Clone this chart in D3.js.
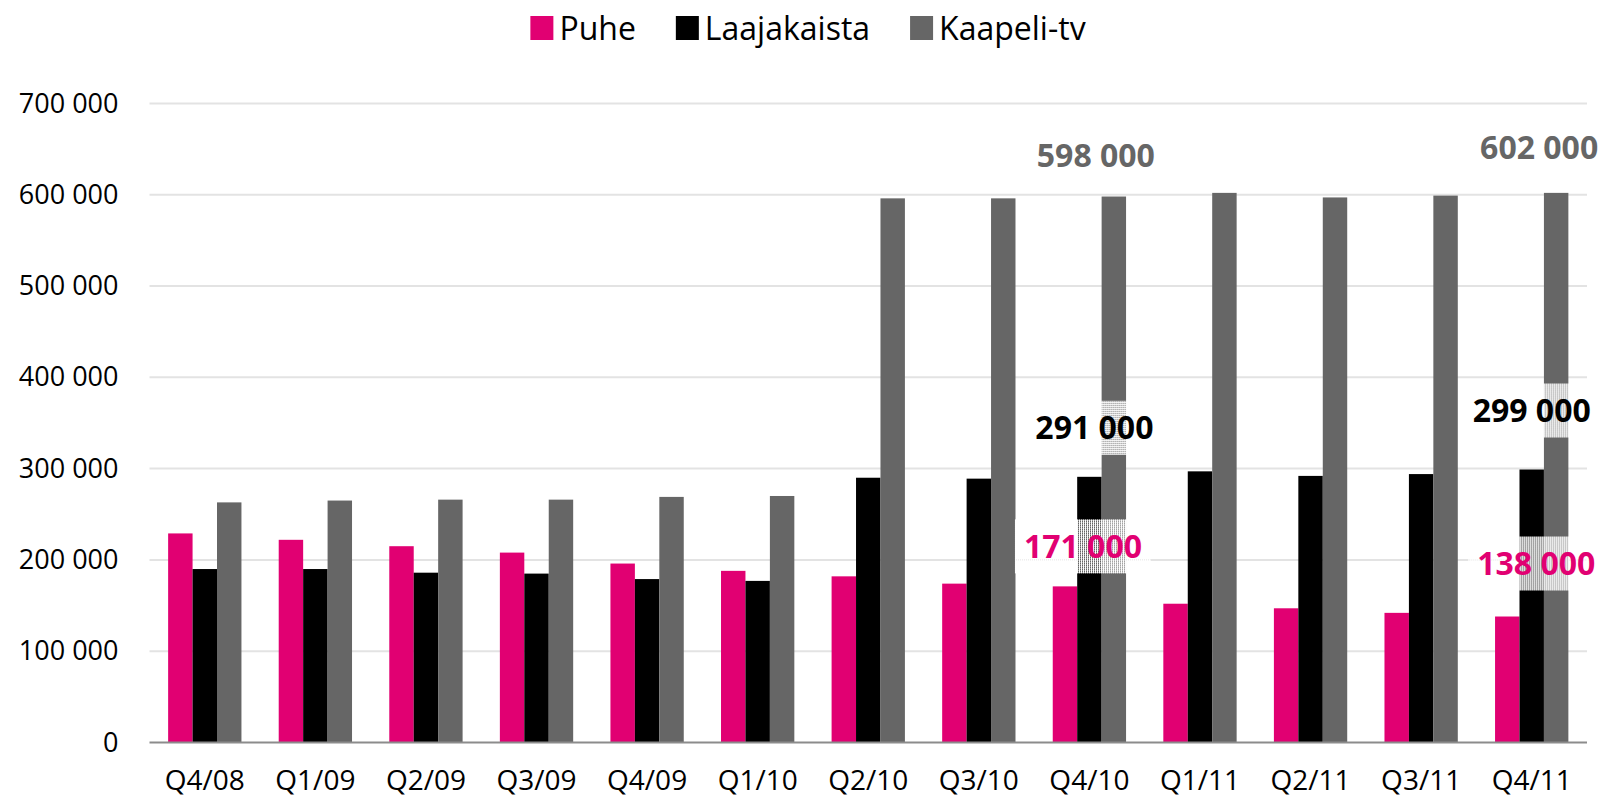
<!DOCTYPE html>
<meta charset="utf-8">
<head>
    <script src="https://d3js.org/d3.v7.min.js"></script>
    <style>
        body { margin: 0; background: #fff; }
        text { font-family: "Open Sans", sans-serif; }
    </style>
</head>
<body>
    <svg width="1606" height="799"></svg>
    <script>
        var categories = ["Q4/08", "Q1/09", "Q2/09", "Q3/09", "Q4/09", "Q1/10", "Q2/10",
            "Q3/10", "Q4/10", "Q1/11", "Q2/11", "Q3/11", "Q4/11"];
        var seriesNames = ["Puhe", "Laajakaista", "Kaapeli-tv"];
        var puhe = [229000, 222000, 215000, 208000, 196000, 188000, 182000,
            174000, 171000, 152000, 147000, 142000, 138000];
        var laajakaista = [190000, 190000, 186000, 185000, 179000, 177000, 290000,
            289000, 291000, 297000, 292000, 294000, 299000];
        var kaapeli = [263000, 265000, 266000, 266000, 269000, 270000, 596000,
            596000, 598000, 602000, 597000, 599000, 602000];
        var yTicks = [0, 100000, 200000, 300000, 400000, 500000, 600000, 700000];

        // callouts: category, series index, dx/dy in px from bar top
        var callouts = [
            { cat: "Q4/10", s: 2, dx: -18, dy: -41 },
            { cat: "Q4/10", s: 1, dx: 5, dy: -49 },
            { cat: "Q4/10", s: 0, dx: 18, dy: -40 },
            { cat: "Q4/11", s: 2, dx: -17, dy: -45 },
            { cat: "Q4/11", s: 1, dx: 0, dy: -59 },
            { cat: "Q4/11", s: 0, dx: 29, dy: -53 }
        ];

        var colors = ["#E10072", "#000000", "#666666"];
        var seriesValues = [puhe, laajakaista, kaapeli];

        var svg = d3.select("svg"),
            plotLeft = 149.5, plotRight = 1587, plotTop = 103.4, plotBottom = 742.5;

        var fmt = d3.formatLocale({ decimal: ",", thousands: " ", grouping: [3], currency: ["", ""] }).format(",");

        var x0 = d3.scaleBand().domain(categories).range([plotLeft, plotRight])
            .paddingInner(0.337).paddingOuter(0.1685);
        var x1 = d3.scaleBand().domain(d3.range(3)).range([0, x0.bandwidth()]);
        var y = d3.scaleLinear().domain([0, 700000]).range([plotBottom, plotTop]);

        // hatch pattern for label boxes
        var pat = svg.append("defs").append("pattern")
            .attr("id", "hatch").attr("patternUnits", "userSpaceOnUse")
            .attr("width", 2).attr("height", 2);
        pat.append("path").attr("d", "M0 0h2v2h-2z M1 1h1v1h-1z")
            .attr("fill", "#fff").attr("fill-rule", "evenodd");

        // gridlines
        svg.append("g").selectAll("line")
            .data(yTicks.filter(function (d) { return d > 0; }))
            .enter().append("line")
            .attr("x1", plotLeft).attr("x2", plotRight)
            .attr("y1", function (d) { return y(d); })
            .attr("y2", function (d) { return y(d); })
            .attr("stroke", "#e3e3e3").attr("stroke-width", 2);

        // y axis
        var yAxis = svg.append("g")
            .attr("transform", "translate(" + plotLeft + ",0)")
            .call(d3.axisLeft(y).tickValues(yTicks).tickSize(0).tickPadding(31).tickFormat(fmt));
        yAxis.select(".domain").remove();
        yAxis.selectAll("text").attr("font-size", 27).attr("fill", "#000")
            .style("font-family", "'Open Sans', sans-serif");

        // bars
        var groups = svg.append("g").selectAll("g")
            .data(categories)
            .enter().append("g")
            .attr("transform", function (d) { return "translate(" + x0(d) + ",0)"; });

        groups.selectAll("rect")
            .data(function (d, i) { return seriesValues.map(function (v, s) { return { s: s, v: v[i] }; }); })
            .enter().append("rect")
            .attr("x", function (d) { return x1(d.s); })
            .attr("width", x1.bandwidth())
            .attr("y", function (d) { return y(d.v); })
            .attr("height", function (d) { return plotBottom - y(d.v); })
            .attr("fill", function (d) { return colors[d.s]; });

        // baseline
        svg.append("line")
            .attr("x1", plotLeft).attr("x2", plotRight)
            .attr("y1", plotBottom).attr("y2", plotBottom)
            .attr("stroke", "#8c8c8c").attr("stroke-width", 2);

        // x axis labels
        var xAxis = svg.append("g")
            .attr("transform", "translate(0," + plotBottom + ")")
            .call(d3.axisBottom(x0).tickSize(0).tickPadding(28));
        xAxis.select(".domain").remove();
        xAxis.selectAll("text").attr("font-size", 28).attr("fill", "#000")
            .style("font-family", "'Open Sans', sans-serif");

        // callout labels
        var labels = svg.append("g").selectAll("g")
            .data(callouts)
            .enter().append("g")
            .attr("transform", function (d) {
                var i = categories.indexOf(d.cat);
                var cx = x0(d.cat) + x1(d.s) + x1.bandwidth() / 2 + d.dx;
                var cy = y(seriesValues[d.s][i]) + d.dy;
                return "translate(" + cx + "," + cy + ")";
            });

        labels.append("text")
            .attr("text-anchor", "middle")
            .attr("dy", "0.36em")
            .attr("font-size", 32)
            .attr("font-weight", "bold")
            .attr("fill", function (d) { return colors[d.s]; })
            .text(function (d) { return fmt(seriesValues[d.s][categories.indexOf(d.cat)]); });

        labels.each(function () {
            var g = d3.select(this);
            var w = g.select("text").node().getComputedTextLength();
            g.insert("rect", "text")
                .attr("x", -w / 2 - 9).attr("y", -27)
                .attr("width", w + 18).attr("height", 54)
                .attr("fill", "url(#hatch)");
        });

        // legend
        var legend = svg.append("g");
        var lx = 0;
        var items = legend.selectAll("g")
            .data(seriesNames)
            .enter().append("g");
        items.append("rect")
            .attr("x", 0).attr("y", -12).attr("width", 23).attr("height", 24)
            .attr("fill", function (d, i) { return colors[i]; });
        items.append("text")
            .attr("x", 29).attr("dy", "0.36em")
            .attr("font-size", 32)
            .attr("fill", "#000")
            .text(function (d) { return d; });
        items.each(function () {
            var g = d3.select(this);
            var w = g.select("text").node().getComputedTextLength();
            g.attr("transform", "translate(" + lx + ",0)");
            lx += 29 + w + 40;
        });
        lx -= 40;
        legend.attr("transform", "translate(" + (808 - lx / 2) + ",28)");
    </script>
</body>
